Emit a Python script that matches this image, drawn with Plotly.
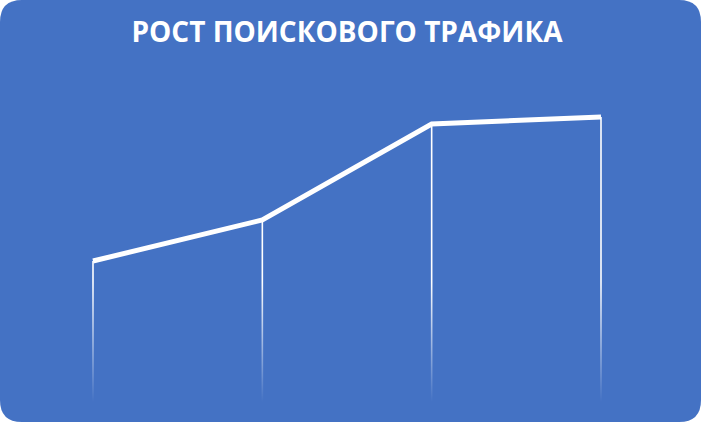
import plotly.graph_objects as go

# Данные (оценка по картинке, условные единицы)
periods = ["Этап 1", "Этап 2", "Этап 3", "Этап 4"]
traffic = [141, 182, 278, 285]
title_text = "РОСТ ПОИСКОВОГО ТРАФИКА"

BLUE = "#4472C4"
W, H = 701, 422
FADE_TOP = 120   # ниже этого уровня вертикальные линии растворяются

x_idx = list(range(len(periods)))
px_per_unit = (601 - 93) / 3
x0 = -93 / px_per_unit
half = 0.8 / px_per_unit   # полуширина вертикальной линии

fig = go.Figure()

# вертикальные линии от точек вниз, с затуханием к низу (узкий полигон с градиентом)
for xi, yi in zip(x_idx, traffic):
    fig.add_trace(go.Scatter(
        x=[xi - half, xi + half, xi + half, xi - half, xi - half],
        y=[0, 0, yi, yi, 0],
        mode="lines", line=dict(width=0), fill="toself",
        fillgradient=dict(type="vertical", start=0, stop=FADE_TOP,
                          colorscale=[[0, "rgba(255,255,255,0)"],
                                      [1, "rgba(255,255,255,1)"]]),
        hoverinfo="skip", showlegend=False,
    ))

# основная линия
fig.add_trace(go.Scatter(
    x=x_idx, y=traffic, mode="lines",
    line=dict(color="white", width=5),
    text=periods, hoverinfo="text+y", showlegend=False,
))

# фон: скруглённый прямоугольник
r = 22
rx, ry = r / W, r / H
path = (f"M {rx},0 L {1-rx},0 Q 1,0 1,{ry} L 1,{1-ry} Q 1,1 {1-rx},1 "
        f"L {rx},1 Q 0,1 0,{1-ry} L 0,{ry} Q 0,0 {rx},0 Z")
fig.add_shape(type="path", path=path, xref="paper", yref="paper",
              fillcolor=BLUE, line=dict(width=0), layer="below")

fig.update_layout(
    width=W, height=H,
    margin=dict(l=0, r=0, t=0, b=0),
    paper_bgcolor="white",
    plot_bgcolor="rgba(0,0,0,0)",
    title=dict(text=title_text, x=0.495, xanchor="center",
               y=1 - 32 / H, yanchor="middle", yref="container",
               font=dict(family="Open Sans", size=28, color="white", weight="bold")),
    xaxis=dict(range=[x0, x0 + W / px_per_unit], visible=False, fixedrange=True),
    yaxis=dict(range=[-20, 402], visible=False, fixedrange=True),
)

fig.write_html("out.html", config={"displayModeBar": False},
               post_script="document.body.style.margin='0';")
